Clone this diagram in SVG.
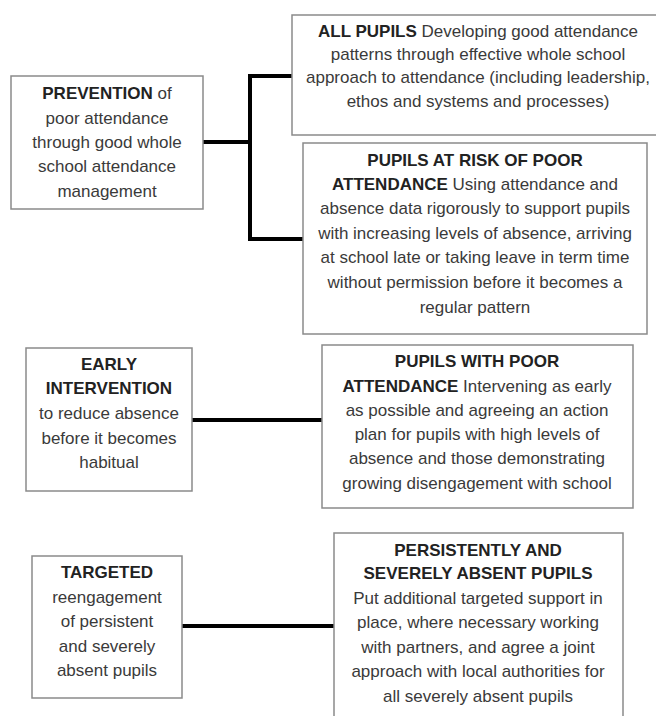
<svg xmlns="http://www.w3.org/2000/svg" width="656" height="716" viewBox="0 0 656 716">
<style>
.box{fill:#fff;stroke:#8a8a8a;stroke-width:1.5}
text{font-family:"Liberation Sans",Arial,sans-serif;font-size:17px;fill:#3a3a3a;text-anchor:middle}
.b{font-weight:bold;fill:#222}
.conn{fill:none;stroke:#000;stroke-width:4;stroke-linejoin:miter}
</style>
<rect width="656" height="716" fill="#fff"/>
<g id="connectors">
<path class="conn" d="M203,142 H250"/>
<path class="conn" d="M292,76 H250 V239 H303"/>
<path class="conn" d="M192,420 H322"/>
<path class="conn" d="M182,626 H334"/>
</g>
<g id="prevention">
<rect class="box" x="11" y="76" width="192" height="133"/>
<text x="107" y="99"><tspan class="b">PREVENTION</tspan> of</text>
<text x="107" y="124">poor attendance</text>
<text x="107" y="148">through good whole</text>
<text x="107" y="172">school attendance</text>
<text x="107" y="197">management</text>
</g>
<g id="all-pupils">
<rect class="box" x="292" y="15" width="372" height="120"/>
<text x="478" y="37"><tspan class="b">ALL PUPILS</tspan> Developing good attendance</text>
<text x="478" y="60">patterns through effective whole school</text>
<text x="478" y="83">approach to attendance (including leadership,</text>
<text x="478" y="107">ethos and systems and processes)</text>
</g>
<g id="at-risk">
<rect class="box" x="303" y="143" width="344" height="191"/>
<text x="475" y="166" class="b">PUPILS AT RISK OF POOR</text>
<text x="475" y="190"><tspan class="b">ATTENDANCE</tspan> Using attendance and</text>
<text x="475" y="214">absence data rigorously to support pupils</text>
<text x="475" y="239">with increasing levels of absence, arriving</text>
<text x="475" y="263">at school late or taking leave in term time</text>
<text x="475" y="288">without permission before it becomes a</text>
<text x="475" y="313">regular pattern</text>
</g>
<g id="early-intervention">
<rect class="box" x="26" y="348" width="166" height="143"/>
<text x="109" y="370" class="b">EARLY</text>
<text x="109" y="394" class="b">INTERVENTION</text>
<text x="109" y="419">to reduce absence</text>
<text x="109" y="444">before it becomes</text>
<text x="109" y="468">habitual</text>
</g>
<g id="poor-attendance">
<rect class="box" x="322" y="345" width="311" height="163"/>
<text x="477" y="367" class="b">PUPILS WITH POOR</text>
<text x="477" y="392"><tspan class="b">ATTENDANCE</tspan> Intervening as early</text>
<text x="477" y="416">as possible and agreeing an action</text>
<text x="477" y="440">plan for pupils with high levels of</text>
<text x="477" y="464">absence and those demonstrating</text>
<text x="477" y="489">growing disengagement with school</text>
</g>
<g id="targeted">
<rect class="box" x="32" y="556" width="150" height="142"/>
<text x="107" y="578" class="b">TARGETED</text>
<text x="107" y="603">reengagement</text>
<text x="107" y="627">of persistent</text>
<text x="107" y="652">and severely</text>
<text x="107" y="676">absent pupils</text>
</g>
<g id="persistently-absent">
<rect class="box" x="334" y="533" width="289" height="200"/>
<text x="478" y="556" class="b">PERSISTENTLY AND</text>
<text x="478" y="579" class="b">SEVERELY ABSENT PUPILS</text>
<text x="478" y="604">Put additional targeted support in</text>
<text x="478" y="628">place, where necessary working</text>
<text x="478" y="653">with partners, and agree a joint</text>
<text x="478" y="677">approach with local authorities for</text>
<text x="478" y="702">all severely absent pupils</text>
</g>
</svg>
